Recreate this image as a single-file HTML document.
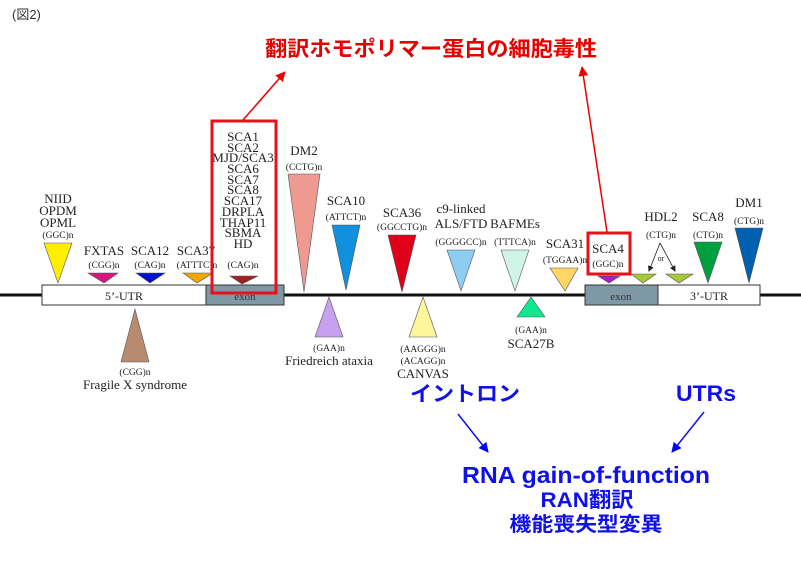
<!DOCTYPE html>
<html><head><meta charset="utf-8"><style>
html,body{margin:0;padding:0;background:#fff}
svg{display:block}
.s{font-family:"Liberation Serif",serif;fill:#222;text-anchor:middle}
.j{font-family:"Liberation Sans","Noto Sans CJK JP",sans-serif;font-weight:bold;text-anchor:middle}
</style></head><body>
<svg width="801" height="561" viewBox="0 0 801 561" xmlns="http://www.w3.org/2000/svg">
<defs>
<marker id="ar" markerWidth="10" markerHeight="10" refX="9" refY="5" orient="auto" markerUnits="userSpaceOnUse"><path d="M0,0 L10,5 L0,10 z" fill="#e00"/></marker>
<marker id="ab" markerWidth="10" markerHeight="10" refX="9" refY="5" orient="auto" markerUnits="userSpaceOnUse"><path d="M0,0 L10,5 L0,10 z" fill="#00f"/></marker>
<marker id="ak" markerWidth="6" markerHeight="6" refX="5" refY="3" orient="auto" markerUnits="userSpaceOnUse"><path d="M0,0 L6,3 L0,6 z" fill="#222"/></marker>
</defs>
<text x="12" y="19" style="font-family:'Liberation Sans','Noto Sans CJK JP',sans-serif;font-size:13px;fill:#333">(図2)</text>
<text x="431" y="56" class="j" style="font-size:21px;fill:#e60000" textLength="332" lengthAdjust="spacingAndGlyphs">翻訳ホモポリマー蛋白の細胞毒性</text>
<line x1="243" y1="120" x2="285" y2="72" stroke="#e00" stroke-width="1.5" marker-end="url(#ar)"/>
<line x1="607" y1="232" x2="582" y2="67" stroke="#e00" stroke-width="1.5" marker-end="url(#ar)"/>

<line x1="0" y1="295" x2="801" y2="295" stroke="#111" stroke-width="3"/>
<rect x="42" y="285" width="164" height="20" fill="#fff" stroke="#333"/>
<rect x="206" y="285" width="78" height="20" fill="#7f98a6" stroke="#333"/>
<rect x="585" y="285" width="73" height="20" fill="#7f98a6" stroke="#333"/>
<rect x="658" y="285" width="102" height="20" fill="#fff" stroke="#333"/>
<text x="124" y="300" class="s" font-size="12">5’-UTR</text>
<text x="245" y="300" class="s" font-size="11" style="fill:#333">exon</text>
<text x="621" y="300" class="s" font-size="11" style="fill:#333">exon</text>
<text x="709" y="300" class="s" font-size="12">3’-UTR</text>

<g stroke="#555" stroke-width="0.6">
<polygon points="44,243 72,243 58,283" fill="#ffee00"/>
<polygon points="88,273 118,273 104,283" fill="#d6157f"/>
<polygon points="136,273 165,273 150,283" fill="#0010d0"/>
<polygon points="183,273 213,273 197,283" fill="#f0a800"/>
<polygon points="230,276 258,276 242,284" fill="#a02020"/>
<polygon points="288,174 320,174 304,292" fill="#ee9a90"/>
<polygon points="332,225 360,225 346,290" fill="#1090dd"/>
<polygon points="388,235 416,235 402,292" fill="#e0001a"/>
<polygon points="447,250 475,250 461,291" fill="#8ecdf2"/>
<polygon points="501,250 529,250 515,291" fill="#d0f5e6"/>
<polygon points="550,268 578,268 565,291" fill="#ffd666"/>
<polygon points="598,276 620,276 609,283" fill="#a020c0"/>
<polygon points="631,274 656,274 643,283" fill="#a6c83a"/>
<polygon points="666,274 693,274 679,283" fill="#a6c83a"/>
<polygon points="694,242 722,242 708,283" fill="#00a040"/>
<polygon points="735,228 763,228 749,283" fill="#0060b0"/>
<polygon points="121,362 149,362 135,309" fill="#b88a70"/>
<polygon points="315,337 343,337 329,297" fill="#c8a0f0"/>
<polygon points="409,337 437,337 423,297" fill="#fff59a"/>
<polygon points="517,317 545,317 531,297" fill="#10e890"/>
</g>
<line x1="660" y1="243" x2="649" y2="271" stroke="#222" stroke-width="0.8" marker-end="url(#ak)"/>
<line x1="660" y1="243" x2="675" y2="271" stroke="#222" stroke-width="0.8" marker-end="url(#ak)"/>
<text x="661" y="261" class="s" font-size="8">or</text>

<g class="s" font-size="13">
<text x="58" y="203">NIID</text><text x="58" y="215">OPDM</text><text x="58" y="227">OPML</text>
<text x="104" y="255">FXTAS</text>
<text x="150" y="255">SCA12</text>
<text x="196" y="255">SCA37</text>
<text x="304" y="155">DM2</text>
<text x="346" y="205">SCA10</text>
<text x="402" y="217">SCA36</text>
<text x="461" y="213">c9-linked</text><text x="461" y="228">ALS/FTD</text>
<text x="515" y="228">BAFMEs</text>
<text x="565" y="248">SCA31</text>
<text x="608" y="253">SCA4</text>
<text x="661" y="221">HDL2</text>
<text x="708" y="221">SCA8</text>
<text x="749" y="207">DM1</text>
<text x="135" y="389">Fragile X syndrome</text>
<text x="329" y="365">Friedreich ataxia</text>
<text x="423" y="378">CANVAS</text>
<text x="531" y="348">SCA27B</text>
</g>
<g class="s" font-size="9.5">
<text x="58" y="238">(GGC)n</text>
<text x="104" y="268">(CGG)n</text>
<text x="150" y="268">(CAG)n</text>
<text x="197" y="268">(ATTTC)n</text>
<text x="243" y="268">(CAG)n</text>
<text x="304" y="170">(CCTG)n</text>
<text x="346" y="220">(ATTCT)n</text>
<text x="402" y="230">(GGCCTG)n</text>
<text x="461" y="245">(GGGGCC)n</text>
<text x="515" y="245">(TTTCA)n</text>
<text x="565" y="263">(TGGAA)n</text>
<text x="608" y="267">(GGC)n</text>
<text x="661" y="238">(CTG)n</text>
<text x="708" y="238">(CTG)n</text>
<text x="749" y="224">(CTG)n</text>
<text x="135" y="375">(CGG)n</text>
<text x="329" y="351">(GAA)n</text>
<text x="423" y="352">(AAGGG)n</text>
<text x="423" y="364">(ACAGG)n</text>
<text x="531" y="333">(GAA)n</text>
</g>
<g class="s" font-size="13">
<text x="243" y="141">SCA1</text><text x="243" y="152">SCA2</text><text x="243" y="162">MJD/SCA3</text>
<text x="243" y="173">SCA6</text><text x="243" y="184">SCA7</text><text x="243" y="194">SCA8</text>
<text x="243" y="205">SCA17</text><text x="243" y="216">DRPLA</text><text x="243" y="227">THAP11</text>
<text x="243" y="237">SBMA</text><text x="243" y="248">HD</text>
</g>
<rect x="212" y="121" width="64" height="172" fill="none" stroke="#e8101a" stroke-width="3"/>
<rect x="588" y="233" width="42" height="41" fill="none" stroke="#e8101a" stroke-width="3"/>

<g class="j" style="fill:#1010e8">
<text x="465" y="401" font-size="21" textLength="110" lengthAdjust="spacingAndGlyphs">イントロン</text>
<text x="706" y="401" font-size="22" textLength="60" lengthAdjust="spacingAndGlyphs">UTRs</text>
<text x="586" y="483" font-size="23" textLength="248" lengthAdjust="spacingAndGlyphs">RNA gain-of-function</text>
<text x="587" y="507" font-size="21" textLength="93" lengthAdjust="spacingAndGlyphs">RAN翻訳</text>
<text x="586" y="531" font-size="20" textLength="153" lengthAdjust="spacingAndGlyphs">機能喪失型変異</text>
</g>
<line x1="458" y1="414" x2="488" y2="452" stroke="#1010e8" stroke-width="1.5" marker-end="url(#ab)"/>
<line x1="704" y1="412" x2="672" y2="452" stroke="#1010e8" stroke-width="1.5" marker-end="url(#ab)"/>
</svg>
</body></html>
